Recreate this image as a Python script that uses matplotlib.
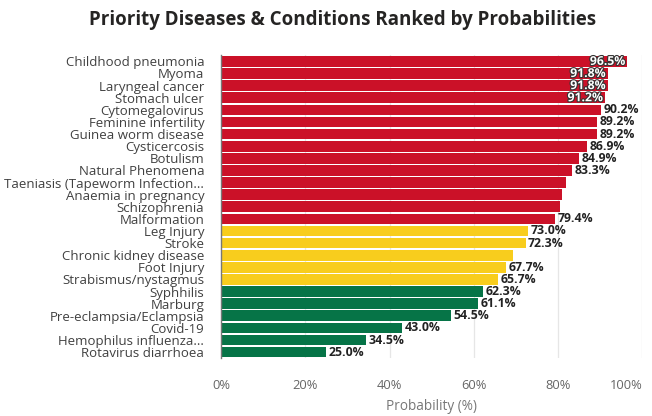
import matplotlib
matplotlib.use("Agg")
import matplotlib.pyplot as plt
import matplotlib.patheffects as pe

# probability per condition, highest first
conditions = [
    "Childhood pneumonia", "Myoma", "Laryngeal cancer", "Stomach ulcer",
    "Cytomegalovirus", "Feminine infertility", "Guinea worm disease",
    "Cysticercosis", "Botulism", "Natural Phenomena",
    "Taeniasis (Tapeworm Infection...", "Anaemia in pregnancy", "Schizophrenia",
    "Malformation", "Leg Injury", "Stroke", "Chronic kidney disease",
    "Foot Injury", "Strabismus/nystagmus", "Syphhilis", "Marburg",
    "Pre-eclampsia/Eclampsia", "Covid-19", "Hemophilus influenza...",
    "Rotavirus diarrhoea",
]
probability = [
    96.5, 91.8, 91.8, 91.2, 90.2, 89.2, 89.2, 86.9, 84.9, 83.3,
    82.0, 81.0, 80.5, 79.4, 73.0, 72.3, 69.4, 67.7, 65.7, 62.3,
    61.1, 54.5, 43.0, 34.5, 25.0,
]
# bars whose value is printed next to them
shown = [
    True, True, True, True, True, True, True, True, True, True,
    False, False, False, True, True, True, False, True, True, True,
    True, True, True, True, True,
]
ticks = [0, 20, 40, 60, 80, 100]

RED = "#CB1128"
YELLOW = "#F8CD1D"
GREEN = "#067447"


def band_colour(p):
    if p >= 75:
        return RED
    if p >= 63:
        return YELLOW
    return GREEN


fig = plt.figure(figsize=(6.52, 4.16), dpi=100)
ax = fig.add_axes([0.339, 0.139, 0.646, 0.728])

ypos = list(range(len(conditions)))
ax.barh(ypos, probability, height=0.88,
        color=[band_colour(p) for p in probability], zorder=2)

for y, p, lab in zip(ypos, probability, shown):
    if not lab:
        continue
    txt = "%.1f%%" % p
    if p > 91:
        ax.text(p - 0.5, y, txt, ha="right", va="center", fontsize=8.8,
                fontweight="bold", family="Open Sans", color="white", zorder=3,
                path_effects=[pe.withStroke(linewidth=1.6, foreground="#333333")])
    else:
        ax.text(p + 0.6, y, txt, ha="left", va="center", fontsize=8.8,
                fontweight="bold", family="Open Sans", color="#222222",
                zorder=3)

ax.set_ylim(len(conditions) - 0.5, -0.5)
ax.set_xlim(0, 100)
ax.set_yticks(ypos)
ax.set_yticklabels(conditions, family="Open Sans", fontsize=9.5,
                   color="#404040")
ax.set_xticks(ticks)
ax.set_xticklabels(["%d%%" % t for t in ticks],
                   family="Open Sans", fontsize=9.3, color="#666666")
# keep the last tick label inside the figure
ax.get_xticklabels()[-1].set_horizontalalignment("right")
ax.tick_params(axis="y", length=0, pad=12)
ax.tick_params(axis="x", length=0, pad=15)
ax.grid(axis="x", color="#E6E6E6", linewidth=0.9, zorder=0)
for side in ["top", "right", "bottom"]:
    ax.spines[side].set_visible(False)
ax.spines["left"].set_color("#777777")
ax.spines["left"].set_linewidth(1.0)
ax.spines["left"].set_zorder(4)

ax.set_xlabel("Probability (%)", family="Open Sans", fontsize=9.8,
              color="#777777", labelpad=5)
fig.suptitle("Priority Diseases & Conditions Ranked by Probabilities",
             x=0.525, y=0.975, family="Open Sans", fontweight="bold",
             fontsize=13.5, color="#252423")

fig.savefig("out.png", dpi=100, facecolor="white")
